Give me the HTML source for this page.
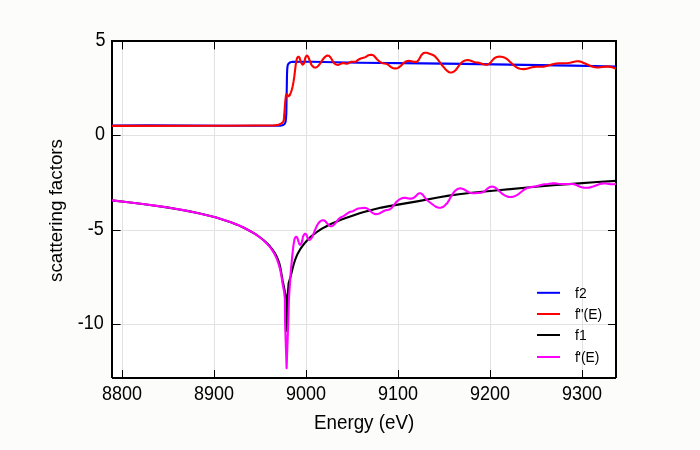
<!DOCTYPE html>
<html><head><meta charset="utf-8"><title>scattering factors</title>
<style>
html,body{margin:0;padding:0;background:#fcfcfa;}
body{width:700px;height:450px;overflow:hidden;}
svg{display:block;font-family:"Liberation Sans",Arial,Helvetica,sans-serif;fill:#000;}
</style></head><body>
<svg width="700" height="450" viewBox="0 0 700 450">
<rect x="0" y="0" width="700" height="450" fill="#fcfcfa"/>
<rect x="112" y="41" width="504" height="337" fill="#ffffff"/>
<line x1="122.50" y1="41" x2="122.50" y2="378" stroke="#e2e2e2" stroke-width="1"/>
<line x1="214.50" y1="41" x2="214.50" y2="378" stroke="#e2e2e2" stroke-width="1"/>
<line x1="306.50" y1="41" x2="306.50" y2="378" stroke="#e2e2e2" stroke-width="1"/>
<line x1="398.50" y1="41" x2="398.50" y2="378" stroke="#e2e2e2" stroke-width="1"/>
<line x1="490.50" y1="41" x2="490.50" y2="378" stroke="#e2e2e2" stroke-width="1"/>
<line x1="582.50" y1="41" x2="582.50" y2="378" stroke="#e2e2e2" stroke-width="1"/>
<line x1="112" y1="41.00" x2="616" y2="41.00" stroke="#e2e2e2" stroke-width="1"/>
<line x1="112" y1="135.50" x2="616" y2="135.50" stroke="#e2e2e2" stroke-width="1"/>
<line x1="112" y1="230.50" x2="616" y2="230.50" stroke="#e2e2e2" stroke-width="1"/>
<line x1="112" y1="324.50" x2="616" y2="324.50" stroke="#e2e2e2" stroke-width="1"/>
<line x1="122.50" y1="378" x2="122.50" y2="370" stroke="#000" stroke-width="1"/>
<line x1="122.50" y1="41" x2="122.50" y2="49.4" stroke="#000" stroke-width="1"/>
<text transform="translate(122.10,400.2) scale(1,1.075)" text-anchor="middle" font-size="18">8800</text>
<line x1="214.50" y1="378" x2="214.50" y2="370" stroke="#000" stroke-width="1"/>
<line x1="214.50" y1="41" x2="214.50" y2="49.4" stroke="#000" stroke-width="1"/>
<text transform="translate(214.10,400.2) scale(1,1.075)" text-anchor="middle" font-size="18">8900</text>
<line x1="306.50" y1="378" x2="306.50" y2="370" stroke="#000" stroke-width="1"/>
<line x1="306.50" y1="41" x2="306.50" y2="49.4" stroke="#000" stroke-width="1"/>
<text transform="translate(306.10,400.2) scale(1,1.075)" text-anchor="middle" font-size="18">9000</text>
<line x1="398.50" y1="378" x2="398.50" y2="370" stroke="#000" stroke-width="1"/>
<line x1="398.50" y1="41" x2="398.50" y2="49.4" stroke="#000" stroke-width="1"/>
<text transform="translate(398.10,400.2) scale(1,1.075)" text-anchor="middle" font-size="18">9100</text>
<line x1="490.50" y1="378" x2="490.50" y2="370" stroke="#000" stroke-width="1"/>
<line x1="490.50" y1="41" x2="490.50" y2="49.4" stroke="#000" stroke-width="1"/>
<text transform="translate(490.10,400.2) scale(1,1.075)" text-anchor="middle" font-size="18">9200</text>
<line x1="582.50" y1="378" x2="582.50" y2="370" stroke="#000" stroke-width="1"/>
<line x1="582.50" y1="41" x2="582.50" y2="49.4" stroke="#000" stroke-width="1"/>
<text transform="translate(582.10,400.2) scale(1,1.075)" text-anchor="middle" font-size="18">9300</text>
<line x1="112" y1="41.00" x2="120.6" y2="41.00" stroke="#000" stroke-width="1"/>
<line x1="616" y1="41.00" x2="608" y2="41.00" stroke="#000" stroke-width="1"/>
<text transform="translate(105.5,45.60) scale(1,1.075)" text-anchor="end" font-size="18">5</text>
<line x1="112" y1="135.50" x2="120.6" y2="135.50" stroke="#000" stroke-width="1"/>
<line x1="616" y1="135.50" x2="608" y2="135.50" stroke="#000" stroke-width="1"/>
<text transform="translate(105.0,140.10) scale(1,1.075)" text-anchor="end" font-size="18">0</text>
<line x1="112" y1="230.50" x2="120.6" y2="230.50" stroke="#000" stroke-width="1"/>
<line x1="616" y1="230.50" x2="608" y2="230.50" stroke="#000" stroke-width="1"/>
<text transform="translate(103.8,235.10) scale(1,1.075)" text-anchor="end" font-size="18">-5</text>
<line x1="112" y1="324.50" x2="120.6" y2="324.50" stroke="#000" stroke-width="1"/>
<line x1="616" y1="324.50" x2="608" y2="324.50" stroke="#000" stroke-width="1"/>
<text transform="translate(103.7,329.10) scale(1,1.075)" text-anchor="end" font-size="18">-10</text>
<path d="M111 41H617M112 40V378M616 40V378M112 378H616" fill="none" stroke="#000" stroke-width="2"/>
<defs><clipPath id="ax"><rect x="112" y="41" width="504" height="337"/></clipPath></defs>
<path d="M110.0 125.5L148.4 125.4L231.2 125.8L276.5 125.8L280.1 125.7L281.3 125.5L282.5 125.2L283.3 124.8L284.1 124.3L284.5 123.9L285.0 123.1L285.3 122.3L285.7 121.1L286.0 118.5L286.3 113.7L287.0 74.7L287.2 69.6L287.5 66.6L287.7 65.4L288.0 64.5L288.3 64.0L288.9 63.3L289.6 62.7L290.4 62.3L291.3 62.1L292.1 61.9L301.5 61.8L311.3 61.8L359.1 62.7L423.9 63.4L463.5 63.9L572.1 65.6L618.0 66.5" fill="none" stroke="#0000ff" stroke-width="2.1" stroke-linejoin="round" stroke-linecap="butt" clip-path="url(#ax)"/>
<path d="M110.0 125.9L222.3 125.7L270.9 125.5L273.6 125.4L275.7 125.2L277.4 124.9L279.2 124.4L280.9 123.7L281.7 123.2L282.4 122.7L283.1 121.8L283.4 121.3L283.7 120.4L283.9 118.9L284.3 114.7L285.2 101.8L286.0 95.0L286.3 94.5L286.4 94.4L286.6 94.4L287.1 94.7L288.1 95.8L288.5 96.1L288.7 96.2L289.1 95.9L289.7 95.2L290.3 94.0L290.9 92.4L291.7 90.1L292.7 86.3L293.5 81.9L294.3 76.5L295.8 64.1L296.4 60.8L297.1 58.1L297.6 57.3L298.2 56.8L298.7 56.7L299.1 57.0L299.4 57.5L299.8 58.5L300.8 61.6L301.3 63.0L301.8 63.8L302.3 64.3L302.7 64.6L303.0 64.5L303.2 64.4L303.6 63.9L304.0 63.3L304.3 62.4L304.6 61.3L305.0 59.0L305.4 57.6L305.9 56.7L306.3 56.1L306.7 55.7L307.0 55.6L307.2 55.7L307.6 56.0L308.5 57.4L309.1 58.8L310.6 63.0L311.1 64.1L311.7 65.1L312.5 66.1L313.4 66.9L314.1 67.4L315.0 67.6L315.8 67.5L316.7 67.1L317.5 66.5L318.4 65.7L319.9 63.9L322.7 59.7L324.0 58.0L324.9 57.1L325.9 56.2L326.6 55.8L327.2 55.6L327.7 55.5L328.6 55.7L329.4 56.2L330.1 56.9L331.0 58.1L332.9 61.5L333.6 62.5L334.4 63.3L335.3 64.1L336.2 64.5L337.0 64.8L338.0 64.9L338.6 64.8L339.1 64.6L341.6 63.4L342.5 63.1L343.0 63.0L343.6 63.1L346.0 63.7L346.9 63.8L347.7 63.6L349.8 62.3L351.2 61.8L352.1 61.7L354.6 61.8L355.4 61.7L356.2 61.4L358.4 59.7L359.7 59.0L360.8 58.5L364.3 57.6L365.4 57.1L367.4 55.8L368.5 55.3L369.7 55.0L370.9 54.8L371.8 54.9L372.4 55.0L373.2 55.3L373.7 55.6L374.6 56.5L376.8 59.0L378.3 60.5L379.7 61.6L380.9 62.5L382.0 63.0L382.9 63.2L385.9 63.7L387.0 64.0L388.2 64.8L391.1 67.1L391.9 67.6L392.7 67.9L393.6 68.2L394.4 68.4L395.9 68.4L396.8 68.2L397.7 67.9L398.5 67.6L399.5 66.9L400.9 65.8L403.2 63.4L404.1 62.6L405.3 61.8L406.5 61.3L407.7 61.0L408.8 60.9L410.3 61.0L413.6 61.7L414.8 61.9L416.0 61.9L417.0 61.6L417.7 61.1L418.5 60.2L420.9 55.9L421.6 54.9L422.2 54.2L423.1 53.4L423.9 53.0L424.8 52.8L425.7 52.7L426.6 52.8L427.5 53.0L432.3 54.7L433.4 55.2L434.4 55.9L435.5 56.9L437.1 58.7L442.9 66.3L444.3 67.9L445.7 69.5L447.1 70.8L448.3 71.7L449.3 72.2L450.4 72.5L451.3 72.5L452.5 72.2L453.7 71.6L454.7 70.9L455.5 70.2L456.3 69.3L459.1 65.4L460.9 63.2L462.0 62.2L463.0 61.5L464.0 60.9L465.1 60.5L466.2 60.2L467.1 60.1L468.0 60.1L469.2 60.2L470.7 60.7L473.5 61.8L474.9 62.2L479.4 62.9L480.5 63.2L483.3 64.2L484.5 64.5L485.7 64.7L486.9 64.7L487.5 64.6L488.4 64.3L489.1 63.8L489.8 63.3L490.9 62.2L493.2 59.4L494.0 58.6L494.7 58.0L495.8 57.5L496.9 57.1L498.1 56.8L499.6 56.6L501.1 56.7L502.7 57.0L504.1 57.4L505.4 58.1L506.7 58.9L508.1 59.9L513.3 64.9L515.7 66.8L517.2 67.7L518.5 68.3L520.0 68.7L521.5 69.0L523.6 69.1L525.7 68.9L527.8 68.4L532.1 67.3L534.4 66.9L536.5 66.8L541.7 66.8L544.1 66.6L546.7 66.0L552.7 64.2L556.0 63.5L558.9 63.3L565.0 63.2L567.7 63.0L570.0 62.7L575.3 61.5L576.8 61.3L578.0 61.2L579.5 61.4L580.9 61.7L586.2 64.0L590.6 65.9L592.9 66.7L594.9 67.2L596.7 67.5L598.5 67.5L600.3 67.3L605.7 66.6L607.1 66.5L608.6 66.6L610.7 66.9L613.0 67.5L615.3 68.4L618.0 69.6" fill="none" stroke="#ff0000" stroke-width="2.1" stroke-linejoin="round" stroke-linecap="butt" clip-path="url(#ax)"/>
<path d="M110.0 200.2L128.5 202.3L142.5 204.0L155.3 205.7L166.9 207.4L177.9 209.2L188.5 211.1L198.8 213.3L208.2 215.5L216.3 217.6L223.8 219.9L230.9 222.3L237.6 224.9L243.9 227.8L250.0 231.0L255.5 234.2L260.2 237.5L263.7 240.3L267.0 243.3L269.9 246.3L272.3 249.4L274.5 252.6L276.4 256.0L278.0 259.6L279.3 263.3L280.0 265.9L280.5 268.5L282.6 280.4L285.0 292.2L285.9 297.0L286.9 331.0L287.4 300.0L288.6 283.3L290.5 277.0L292.6 268.6L293.8 263.9L295.0 260.2L296.3 256.8L297.4 254.3L298.8 251.7L300.1 249.4L301.8 246.9L303.6 244.5L305.5 242.2L307.5 240.0L309.6 237.9L311.9 235.9L314.4 233.8L316.9 232.0L319.6 230.2L322.4 228.4L325.6 226.7L328.8 225.0L332.1 223.4L336.2 221.7L340.9 219.8L346.5 217.7L353.9 215.2L359.6 213.3L364.8 211.7L369.7 210.4L374.4 209.2L381.4 207.6L389.1 206.1L417.2 201.4L439.3 197.2L448.8 195.6L458.9 194.2L471.7 192.8L500.7 190.0L530.0 187.3L553.3 185.3L575.8 183.6L597.3 182.0L618.0 180.7" fill="none" stroke="#000000" stroke-width="2.1" stroke-linejoin="round" stroke-linecap="butt" clip-path="url(#ax)"/>
<path d="M110.0 200.2L127.9 202.2L143.1 204.0L156.8 205.9L169.5 207.8L181.9 209.9L193.7 212.2L204.9 214.7L214.5 217.1L222.6 219.4L230.2 222.0L233.9 223.4L237.5 224.8L240.8 226.3L244.0 227.8L247.2 229.5L250.4 231.2L253.3 232.9L256.1 234.7L258.6 236.4L261.0 238.3L263.3 240.2L265.2 242.0L267.3 244.1L269.1 246.1L270.8 248.2L272.3 250.4L273.7 252.6L275.0 255.0L276.1 257.4L277.3 260.2L278.2 262.8L279.0 265.4L279.8 268.3L280.5 271.3L281.6 277.0L282.4 282.8L284.0 291.0L284.9 299.0L285.1 323.4L286.6 368.2L288.2 323.4L288.9 300.0L289.2 294.4L290.8 271.6L292.1 257.5L293.3 246.3L293.9 242.7L294.5 239.3L294.9 238.1L295.3 237.4L296.0 236.9L296.5 236.9L296.7 237.0L297.1 237.5L297.6 238.7L299.0 243.1L299.4 244.1L299.7 244.6L299.8 244.7L300.2 244.7L300.6 244.3L301.0 243.8L301.5 242.9L301.9 242.0L302.3 240.6L302.8 237.4L303.3 236.0L303.7 235.1L304.3 234.3L304.8 233.9L305.3 233.8L305.5 233.8L305.9 234.2L306.5 235.0L306.9 235.8L307.6 238.1L308.3 239.3L308.7 239.7L309.2 239.9L309.7 239.9L310.2 239.6L310.7 239.1L311.3 238.4L312.3 236.8L315.5 228.8L316.6 226.3L317.6 224.5L318.4 223.2L319.2 222.3L320.0 221.5L321.1 220.8L321.9 220.4L322.8 220.2L323.4 220.2L324.2 220.5L325.0 221.0L325.7 221.7L328.0 224.4L329.1 225.4L329.9 226.0L330.5 226.2L331.4 226.3L331.9 226.2L333.0 225.6L334.5 224.2L335.7 222.8L338.7 219.0L339.6 218.2L340.3 217.6L341.1 217.2L343.0 216.4L344.3 215.7L348.2 212.9L349.5 212.1L350.4 211.8L352.7 211.3L353.5 210.9L355.6 209.6L356.7 209.1L358.3 208.5L360.1 208.2L364.6 207.9L365.5 208.0L366.4 208.2L367.2 208.6L368.3 209.2L371.4 212.0L372.6 212.9L373.7 213.5L374.8 213.9L376.0 214.1L377.1 214.0L378.3 213.8L379.2 213.5L380.3 213.0L383.2 211.3L384.5 210.7L385.6 210.3L388.6 209.7L389.7 209.2L390.5 208.8L391.2 208.3L392.1 207.4L395.2 203.4L396.6 201.8L398.4 200.2L399.4 199.5L400.5 198.9L401.5 198.4L402.4 198.1L404.1 197.8L405.6 197.9L408.6 198.5L409.8 198.6L411.0 198.6L412.2 198.4L413.3 198.0L414.3 197.4L415.5 196.4L418.1 193.8L418.8 193.4L419.7 193.2L420.3 193.2L420.9 193.3L421.9 194.0L423.2 195.3L425.9 198.8L427.1 200.2L428.7 201.5L434.0 205.5L435.5 206.5L437.1 207.3L438.6 207.7L440.1 207.8L441.3 207.6L442.7 207.1L444.0 206.3L445.3 205.1L446.8 203.6L448.0 201.9L449.1 200.1L452.2 194.6L453.2 193.1L454.1 191.9L455.4 190.6L456.8 189.5L458.2 188.8L459.6 188.4L460.4 188.4L461.3 188.5L463.1 189.0L464.7 189.8L468.3 192.0L470.2 192.8L472.3 193.2L474.7 193.3L481.3 192.6L482.8 192.3L483.6 191.9L484.6 191.3L487.5 188.6L489.0 187.5L490.1 187.0L490.9 186.7L492.1 186.6L492.9 186.7L494.3 187.1L495.9 188.1L497.3 189.3L501.7 193.3L503.1 194.4L504.4 195.2L506.0 196.1L507.5 196.6L508.9 196.9L510.7 197.0L512.2 196.9L513.7 196.5L515.1 196.0L516.4 195.4L517.7 194.6L518.9 193.8L522.7 190.7L524.2 189.6L525.7 188.7L527.1 188.1L529.3 187.4L536.2 186.2L542.9 184.6L544.6 184.2L547.9 184.0L551.2 183.5L552.7 183.3L554.2 183.4L558.4 183.8L562.0 184.0L565.3 184.0L570.4 184.0L572.2 184.0L574.0 184.3L575.4 184.6L576.8 185.2L580.1 186.7L581.8 187.2L583.9 187.6L586.0 187.8L588.7 187.6L591.3 187.1L593.9 186.3L599.2 184.2L600.7 183.8L602.2 183.6L603.7 183.5L605.5 183.5L610.5 184.1L612.3 184.2L614.4 184.1L618.0 183.6" fill="none" stroke="#ff00ff" stroke-width="2.1" stroke-linejoin="round" stroke-linecap="butt" clip-path="url(#ax)"/>
<text transform="translate(364.1,428.6) scale(1,1.045)" text-anchor="middle" font-size="18.8">Energy (eV)</text>
<text transform="translate(61.9,210.5) rotate(-90)" text-anchor="middle" font-size="18.8">scattering factors</text>
<line x1="537" y1="292.8" x2="560" y2="292.8" stroke="#0000ff" stroke-width="2"/>
<text transform="translate(575.1,297.5) scale(1,1.045)" font-size="13.9">f2</text>
<line x1="537" y1="314" x2="560" y2="314" stroke="#ff0000" stroke-width="2"/>
<text transform="translate(575.1,319) scale(1,1.045)" font-size="13.9">f<tspan dx="-0.7">''</tspan>(E)</text>
<line x1="537" y1="335.0" x2="560" y2="335.0" stroke="#000000" stroke-width="2"/>
<text transform="translate(575.1,340.2) scale(1,1.045)" font-size="13.9">f1</text>
<line x1="537" y1="357" x2="560" y2="357" stroke="#ff00ff" stroke-width="2"/>
<text transform="translate(575.1,362) scale(1,1.045)" font-size="13.9">f<tspan dx="-0.7">'</tspan>(E)</text>
</svg>
</body></html>
